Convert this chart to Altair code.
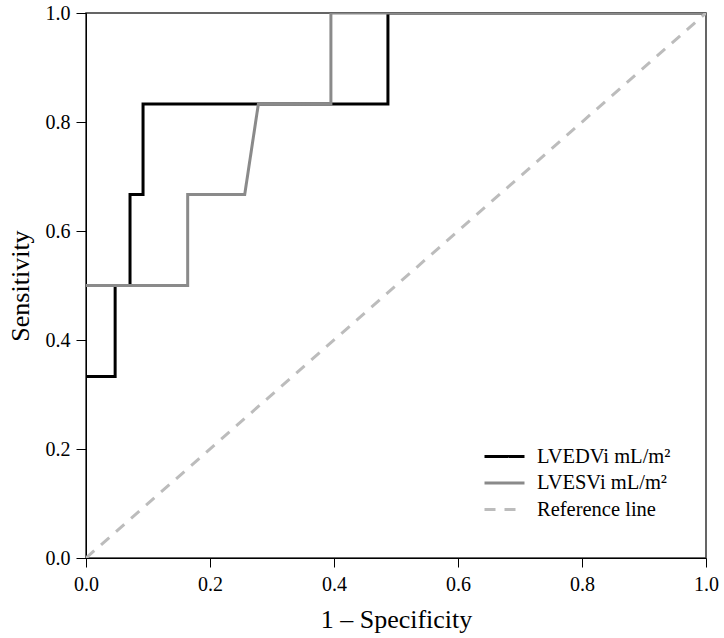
import altair as alt
import pandas as pd

# ROC curve points (1 - specificity, sensitivity)
edv_x = [0.0, 0.047, 0.047, 0.071, 0.071, 0.092, 0.092, 0.487, 0.487, 1.0]
edv_y = [0.333, 0.333, 0.5, 0.5, 0.667, 0.667, 0.833, 0.833, 1.0, 1.0]
esv_x = [0.0, 0.164, 0.164, 0.256, 0.278, 0.395, 0.395, 1.0]
esv_y = [0.5, 0.5, 0.667, 0.667, 0.833, 0.833, 1.0, 1.0]
ref_x = [0.0, 1.0]
ref_y = [0.0, 1.0]

series = ["LVEDVi mL/m²", "LVESVi mL/m²", "Reference line"]
colors = ["#000000", "#8a8a8a", "#bcbcbc"]
dashes = [[1, 0], [1, 0], [11, 9]]

rows = []
for name, xs, ys in zip(series, [edv_x, esv_x, ref_x], [edv_y, esv_y, ref_y]):
    for i, (x, y) in enumerate(zip(xs, ys)):
        rows.append({"series": name, "x": x, "y": y, "order": i})
df = pd.DataFrame(rows)

font = "Liberation Serif"
ticks = [0, 0.2, 0.4, 0.6, 0.8, 1.0]

chart = alt.Chart(df).mark_line(strokeWidth=3, interpolate="linear", clip=True).encode(
    x=alt.X("x:Q", scale=alt.Scale(domain=[0, 1], nice=False),
            axis=alt.Axis(title="1 – Specificity", values=ticks, labelFlush=False,
                          format=".1f", grid=False, tickSize=9, labelPadding=7,
                          titlePadding=12, domainColor="black", tickColor="black")),
    y=alt.Y("y:Q", scale=alt.Scale(domain=[0, 1], nice=False),
            axis=alt.Axis(title="Sensitivity", values=ticks, labelFlush=False,
                          format=".1f", grid=False, tickSize=10, labelPadding=6,
                          titlePadding=12, domainColor="black", tickColor="black")),
    color=alt.Color("series:N", scale=alt.Scale(domain=series, range=colors),
                    legend=alt.Legend(title=None, orient="none", legendX=407, legendY=432,
                                      symbolType="M-2,0H2", symbolSize=400,
                                      symbolStrokeWidth=3, labelFontSize=20.5,
                                      labelFont=font, labelColor="black",
                                      rowPadding=4.5, labelOffset=21)),
    strokeDash=alt.StrokeDash("series:N", scale=alt.Scale(domain=series, range=dashes),
                              legend=None),
    strokeWidth=alt.StrokeWidth("series:N", scale=alt.Scale(domain=series, range=[3, 3, 2.5]),
                                legend=None),
    order="order:Q",
).properties(
    width=620, height=545,
    padding={"left": 86, "top": 13, "right": 18, "bottom": 80},
    autosize=alt.AutoSizeParams(type="none"),
    background="white",
).configure_view(
    stroke="#333333", strokeWidth=1.5,
).configure_axis(
    labelFont=font, titleFont=font, labelFontSize=20, titleFontSize=26,
    titleFontWeight="normal", labelColor="black", titleColor="black",
)

chart.save("out.html", embed_options={"renderer": "svg", "actions": False})
